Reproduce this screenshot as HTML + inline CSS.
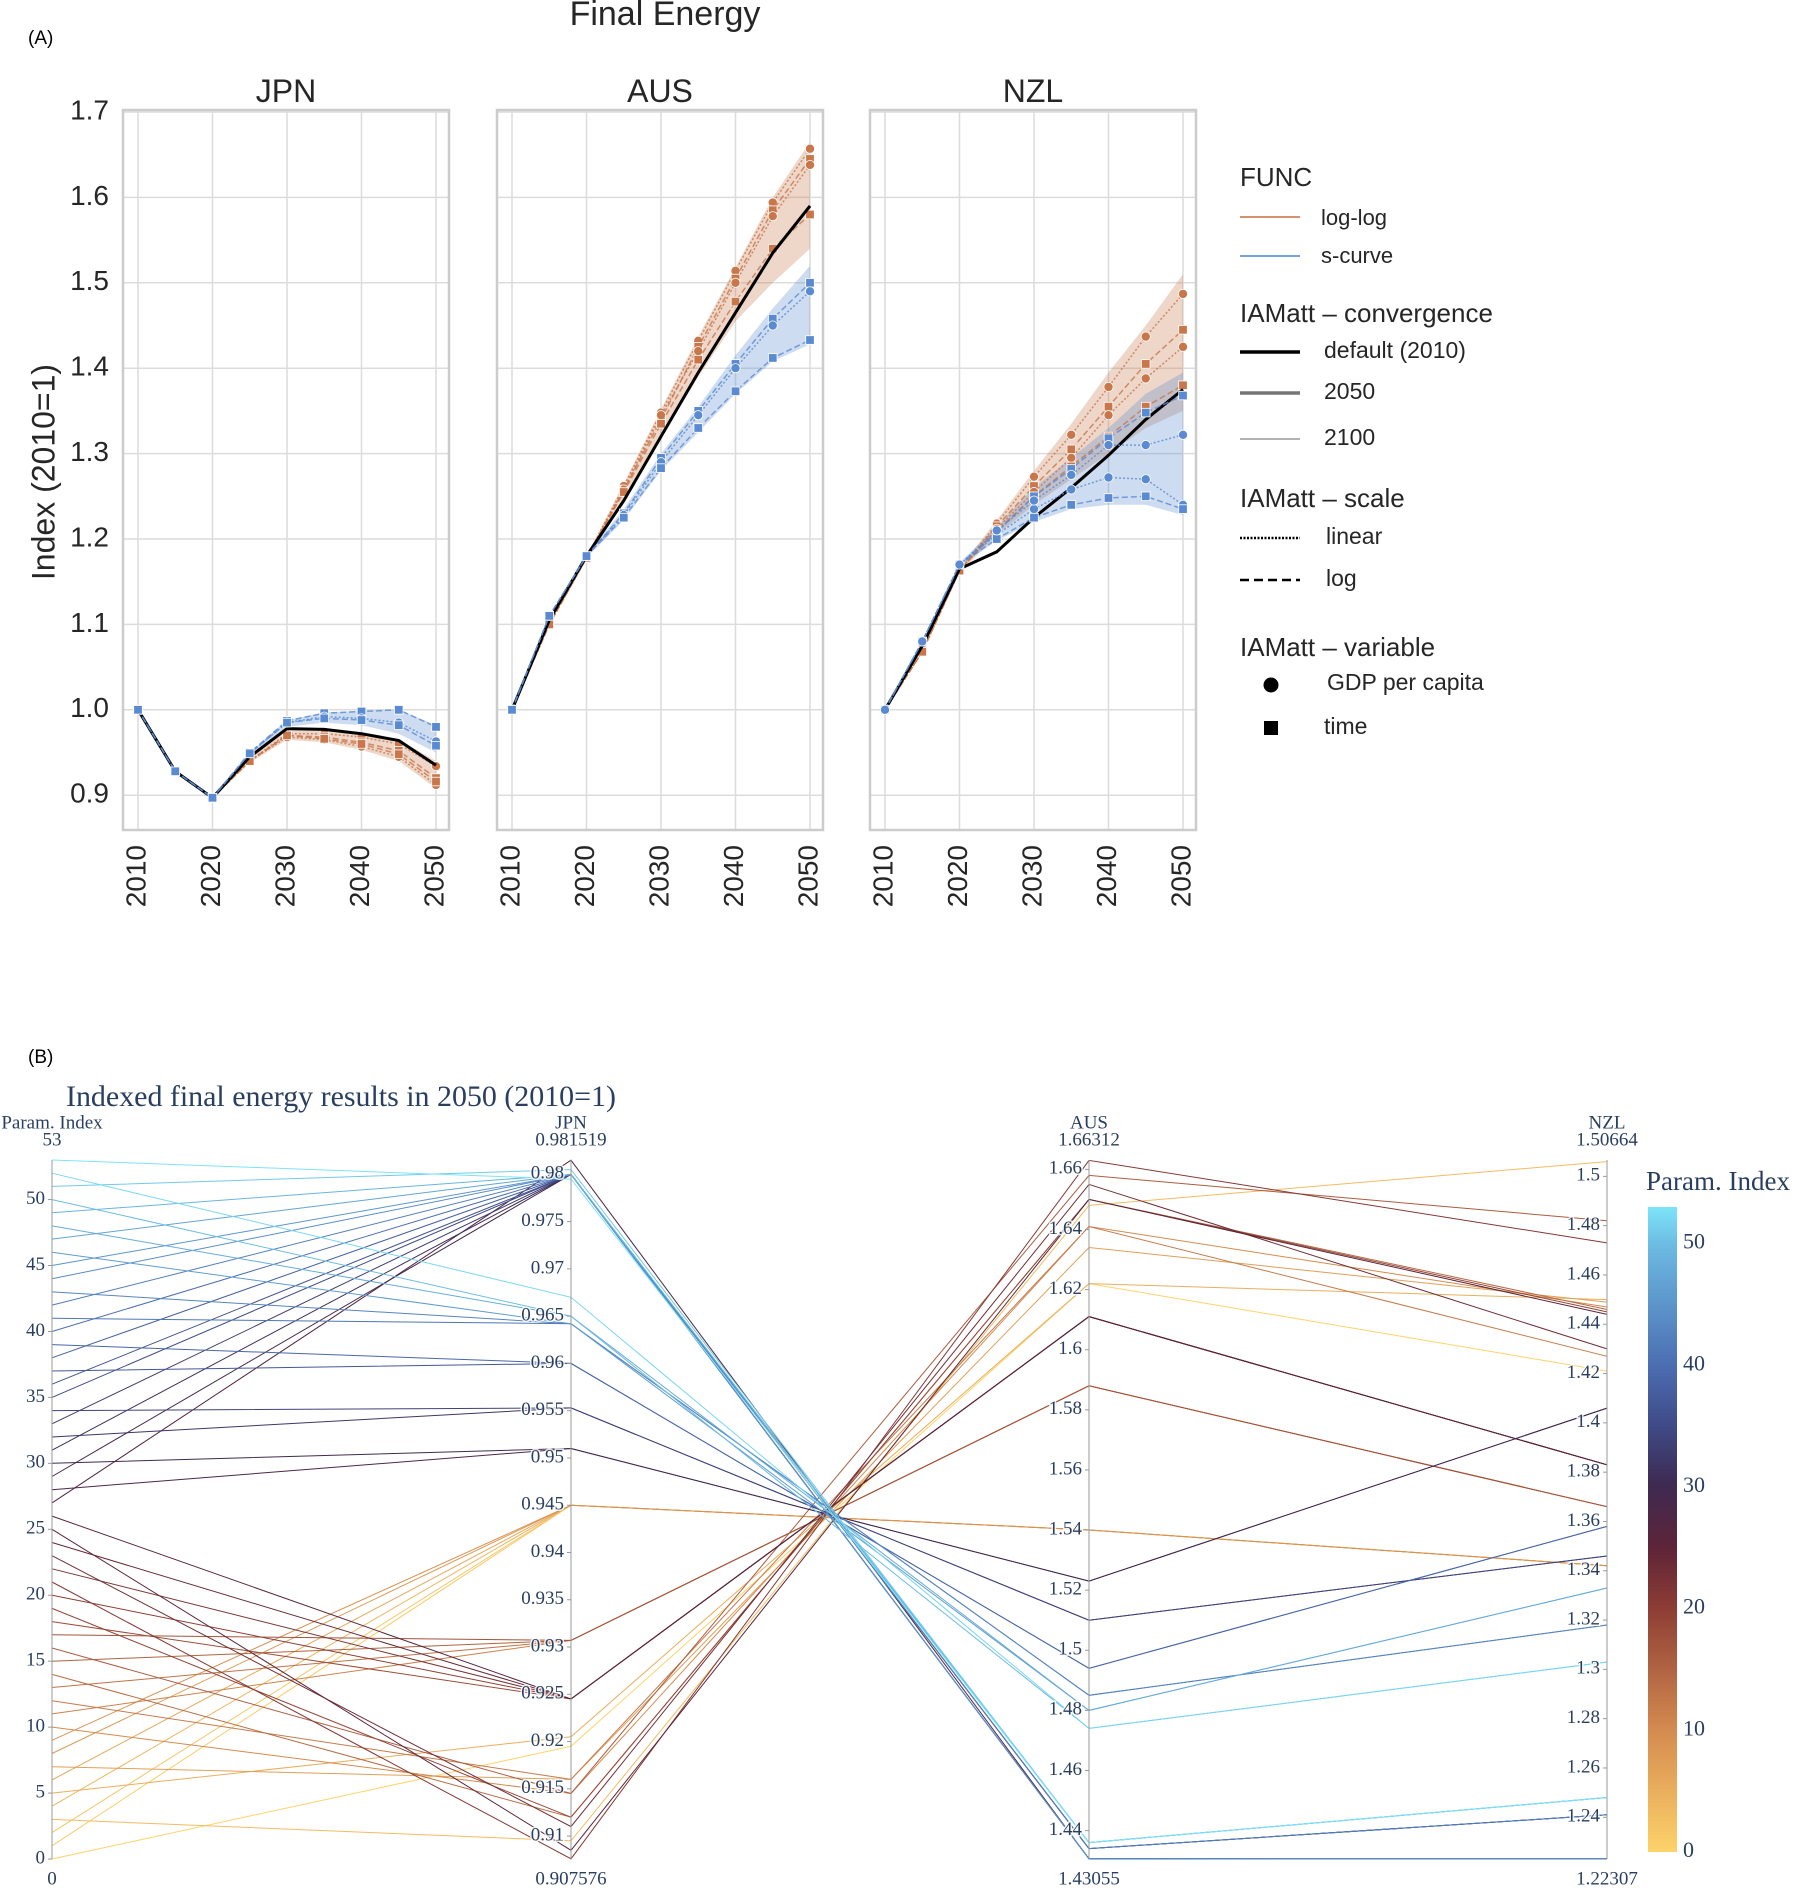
<!DOCTYPE html>
<html><head><meta charset="utf-8">
<style>
html,body{margin:0;padding:0;background:#fff;}
svg{display:block;}
.sans{font-family:"Liberation Sans",Arial,sans-serif;}
.serif{font-family:"Liberation Serif","Times New Roman",serif;}
</style></head>
<body>
<svg id="root" width="1803" height="1888" viewBox="0 0 1803 1888" xmlns="http://www.w3.org/2000/svg">
<defs>
<linearGradient id="cbgrad" x1="0" y1="1" x2="0" y2="0">
<stop offset="0" stop-color="#fdd36a"/><stop offset="0.19" stop-color="#d48a50"/>
<stop offset="0.38" stop-color="#8c3c34"/><stop offset="0.47" stop-color="#5e2438"/>
<stop offset="0.57" stop-color="#3e2a52"/><stop offset="0.66" stop-color="#3f4a86"/>
<stop offset="0.75" stop-color="#4b6cb0"/><stop offset="0.94" stop-color="#6cbbe2"/>
<stop offset="1" stop-color="#7de4f9"/>
</linearGradient>
</defs>
<text class="sans" x="28" y="44" font-size="19" fill="#000">(A)</text>
<text class="sans" x="665" y="25" font-size="34" fill="#262626" text-anchor="middle">Final Energy</text>
<text class="sans" x="46" y="472" font-size="32" fill="#262626" text-anchor="middle" transform="rotate(-90 46 472)" dominant-baseline="middle">Index (2010=1)</text>
<g id="panelA"></g>
<g id="legendA"></g>
<text class="sans" x="28" y="1063" font-size="19" fill="#000">(B)</text>
<text class="serif" x="66" y="1106" font-size="30" fill="#2a3f5f" textLength="550">Indexed final energy results in 2050 (2010=1)</text>
<g id="panelB"></g>
</svg>
<script>
// ---------- Panel A data ----------
const years = [2010,2015,2020,2025,2030,2035,2040,2045,2050];
const panelNames = ["JPN","AUS","NZL"];
const yTicks = [0.9,1.0,1.1,1.2,1.3,1.4,1.5,1.6,1.7];
const xTicks = [2010,2020,2030,2040,2050];

const jpnDefault = [1,0.928,0.897,0.945,0.978,0.977,0.972,0.964,0.935];
const jpnLog = [
 [1,0.928,0.897,0.94,0.972,0.972,0.968,0.96,0.934],
 [1,0.928,0.897,0.94,0.97,0.968,0.962,0.952,0.92],
 [1,0.928,0.897,0.94,0.968,0.965,0.957,0.945,0.912],
 [1,0.928,0.897,0.94,0.97,0.966,0.96,0.948,0.916]];
const jpnLogLo = [1,0.928,0.897,0.938,0.965,0.962,0.953,0.94,0.908];
const jpnLogHi = [1,0.928,0.897,0.945,0.978,0.976,0.972,0.965,0.94];
const jpnS = [
 [1,0.928,0.897,0.95,0.987,0.996,0.998,1.0,0.98],
 [1,0.928,0.897,0.949,0.985,0.992,0.99,0.985,0.963],
 [1,0.928,0.897,0.949,0.985,0.99,0.988,0.982,0.958]];
const jpnSLo = [1,0.928,0.897,0.946,0.98,0.985,0.982,0.972,0.95];
const jpnSHi = [1,0.928,0.897,0.95,0.988,0.997,0.999,1.0,0.982];

const ausDefault = [1,1.105,1.18,1.245,1.32,1.395,1.465,1.535,1.59];
const ausLog = [
 [1,1.1,1.178,1.262,1.348,1.432,1.514,1.594,1.657],
 [1,1.1,1.178,1.258,1.34,1.425,1.505,1.585,1.645],
 [1,1.1,1.178,1.258,1.345,1.42,1.5,1.578,1.638],
 [1,1.1,1.178,1.255,1.335,1.41,1.478,1.54,1.58]];
const ausLogLo = [1,1.1,1.175,1.245,1.32,1.39,1.455,1.5,1.54];
const ausLogHi = [1,1.1,1.18,1.265,1.352,1.437,1.518,1.6,1.665];
const ausS = [
 [1,1.11,1.18,1.23,1.295,1.35,1.405,1.458,1.5],
 [1,1.11,1.18,1.228,1.29,1.345,1.4,1.45,1.49],
 [1,1.11,1.18,1.225,1.283,1.33,1.373,1.412,1.433]];
const ausSLo = [1,1.11,1.178,1.222,1.28,1.325,1.37,1.408,1.428];
const ausSHi = [1,1.11,1.182,1.235,1.3,1.355,1.415,1.47,1.52];

const nzlDefault = [1,1.075,1.165,1.185,1.225,1.26,1.298,1.34,1.375];
const nzlLog = [
 [1,1.068,1.163,1.218,1.273,1.322,1.378,1.437,1.487],
 [1,1.068,1.163,1.215,1.262,1.305,1.355,1.405,1.445],
 [1,1.068,1.163,1.212,1.255,1.295,1.345,1.388,1.425],
 [1,1.068,1.163,1.21,1.25,1.285,1.32,1.355,1.38]];
const nzlLogLo = [1,1.068,1.16,1.205,1.24,1.27,1.3,1.33,1.35];
const nzlLogHi = [1,1.068,1.166,1.222,1.28,1.335,1.395,1.45,1.51];
const nzlS = [
 [1,1.08,1.17,1.208,1.25,1.282,1.318,1.348,1.368],
 [1,1.08,1.17,1.205,1.235,1.258,1.272,1.27,1.24],
 [1,1.08,1.17,1.2,1.225,1.24,1.248,1.25,1.235],
 [1,1.08,1.17,1.21,1.245,1.275,1.31,1.31,1.322]];
const nzlSLo = [1,1.08,1.168,1.198,1.22,1.235,1.24,1.24,1.228];
const nzlSHi = [1,1.08,1.172,1.215,1.26,1.295,1.33,1.37,1.395];

// ---------- Panel B data ----------
const paramIndex = [0,1,2,3,4,5,6,7,8,9,10,11,12,13,14,15,16,17,18,19,20,21,22,23,24,25,26,27,28,29,30,31,32,33,34,35,36,37,38,39,40,41,42,43,44,45,46,47,48,49,50,51,52,53];
const jpnVals = [0.9195,0.945,0.945,0.9095,0.945,0.9205,0.945,0.916,0.945,0.945,0.9145,0.9307,0.916,0.9307,0.912,0.9307,0.9145,0.9307,0.9245,0.912,0.9245,0.9076,0.9245,0.911,0.9245,0.9085,0.9245,0.9815,0.951,0.98,0.951,0.98,0.9553,0.98,0.9553,0.98,0.98,0.96,0.98,0.96,0.98,0.9642,0.98,0.9642,0.98,0.98,0.9642,0.98,0.965,0.98,0.965,0.9805,0.967,0.9795];
const ausVals = [1.622,1.54,1.54,1.648,1.54,1.622,1.54,1.634,1.54,1.54,1.641,1.588,1.641,1.588,1.65,1.588,1.658,1.588,1.611,1.65,1.611,1.663,1.611,1.655,1.611,1.65,1.611,1.4306,1.523,1.434,1.523,1.4306,1.51,1.4306,1.51,1.434,1.4306,1.494,1.434,1.494,1.4306,1.485,1.434,1.485,1.436,1.4306,1.48,1.436,1.48,1.436,1.474,1.436,1.474,1.436];
const nzlVals = [1.421,1.342,1.342,1.506,1.342,1.45,1.342,1.449,1.342,1.342,1.447,1.366,1.427,1.366,1.446,1.366,1.482,1.366,1.383,1.445,1.383,1.473,1.383,1.43,1.383,1.444,1.383,1.2231,1.406,1.241,1.406,1.2231,1.346,1.2231,1.346,1.241,1.2231,1.358,1.241,1.358,1.2231,1.318,1.241,1.318,1.248,1.2231,1.333,1.248,1.333,1.248,1.303,1.248,1.303,1.248];
const axisLabels = ["Param. Index","JPN","AUS","NZL"];
const axisMin = [0,0.907576,1.43055,1.22307];
const axisMax = [53,0.981519,1.66312,1.50664];
const axisMinText = ["0","0.907576","1.43055","1.22307"];
const axisMaxText = ["53","0.981519","1.66312","1.50664"];
const paramTicks = [0,5,10,15,20,25,30,35,40,45,50];
const jpnTicks = [0.91,0.915,0.92,0.925,0.93,0.935,0.94,0.945,0.95,0.955,0.96,0.965,0.97,0.975,0.98];
const ausTicks = [1.44,1.46,1.48,1.5,1.52,1.54,1.56,1.58,1.6,1.62,1.64,1.66];
const nzlTicks = [1.24,1.26,1.28,1.3,1.32,1.34,1.36,1.38,1.4,1.42,1.44,1.46,1.48,1.5];
const cbTicks = [0,10,20,30,40,50];

const NS = "http://www.w3.org/2000/svg";
function mk(tag, parent, attrs){const e=document.createElementNS(NS,tag);for(const k in attrs)e.setAttribute(k,attrs[k]);parent.appendChild(e);return e;}

// ---------- Panel A drawing ----------
const pA = document.getElementById('panelA');
const panelLeft = [123,497,870], pW = 326, pTop = 110, pBot = 830;
const ORANGE = "#c8764a", BLUE = "#5a8bd2";
function yA(v){return 112 + (1.7 - v)/0.1*85.4;}
function xA(p, yr){return panelLeft[p] + 15 + (yr-2010)/40*298;}
const panelData = [
 {def:jpnDefault,log:jpnLog,logLo:jpnLogLo,logHi:jpnLogHi,s:jpnS,sLo:jpnSLo,sHi:jpnSHi},
 {def:ausDefault,log:ausLog,logLo:ausLogLo,logHi:ausLogHi,s:ausS,sLo:ausSLo,sHi:ausSHi},
 {def:nzlDefault,log:nzlLog,logLo:nzlLogLo,logHi:nzlLogHi,s:nzlS,sLo:nzlSLo,sHi:nzlSHi}];
function pts(p, arr){return arr.map((v,i)=>xA(p,years[i]).toFixed(1)+','+yA(v).toFixed(1)).join(' ');}
function band(p, lo, hi, color, name){
  const a = lo.map((v,i)=>xA(p,years[i]).toFixed(1)+','+yA(v).toFixed(1));
  const b = hi.map((v,i)=>xA(p,years[i]).toFixed(1)+','+yA(v).toFixed(1)).reverse();
  const e = mk('polygon', pA, {points:a.concat(b).join(' '), fill:color, 'fill-opacity':0.3, stroke:'none'});
  
  
}
function series(p, arr, color, dash, marker, name){
  const e = mk('polyline', pA, {points:pts(p,arr), fill:'none', stroke:color, 'stroke-width':1.5, 'stroke-dasharray':dash, 'stroke-opacity':0.8});
  
  
  arr.forEach((v,i)=>{
    const x = xA(p,years[i]), y = yA(v);
    let m;
    if(marker==='c') m = mk('circle', pA, {cx:x, cy:y, r:4.6, fill:color, stroke:'#fff', 'stroke-width':0.8});
    else m = mk('rect', pA, {x:x-4.3, y:y-4.3, width:8.6, height:8.6, fill:color, stroke:'#fff', 'stroke-width':0.8});
    
    
  });
}
for(let p=0;p<3;p++){
  const L = panelLeft[p];
  yTicks.forEach(t=>{
    const g = mk('line', pA, {x1:L, x2:L+pW, y1:yA(t), y2:yA(t), stroke:'#dcdcdc', 'stroke-width':1.5});
    
    
    if(p===0){
      const tl = mk('text', pA, {x:109, y:yA(t), 'font-size':28, fill:'#262626', 'text-anchor':'end', 'dominant-baseline':'middle', class:'sans'});
      tl.textContent = t.toFixed(1);
      
      
    }
  });
  xTicks.forEach(t=>{
    const x = xA(p,t);
    const g = mk('line', pA, {x1:x, x2:x, y1:pTop, y2:pBot, stroke:'#dcdcdc', 'stroke-width':1.5});
    
    
    const tl = mk('text', pA, {x:x, y:845, 'font-size':28, fill:'#262626', 'text-anchor':'end', 'dominant-baseline':'middle', transform:'rotate(-90 '+x+' 845)', class:'sans'});
    tl.textContent = t;
    
    
  });
  const d = panelData[p];
  band(p, d.logLo, d.logHi, ORANGE, 'loglog-band');
  band(p, d.sLo, d.sHi, BLUE, 'scurve-band');
  d.log.forEach((arr,i)=>series(p, arr, ORANGE, i%2?'6,3':'2,2', i%2?'s':'c', 'loglog-line'));
  const dl = mk('polyline', pA, {points:pts(p,d.def), fill:'none', stroke:'#000', 'stroke-width':3});
  
  
  d.s.forEach((arr,i)=>series(p, arr, BLUE, i%2?'2,2':'6,3', i%2?'c':'s', 'scurve-line'));
  const fr = mk('rect', pA, {x:L, y:pTop, width:pW, height:pBot-pTop, fill:'none', stroke:'#cccccc', 'stroke-width':2.5});
  
  
  const tt = mk('text', pA, {x:L+pW/2, y:102, 'font-size':32, fill:'#262626', 'text-anchor':'middle', class:'sans'});
  tt.textContent = panelNames[p];
  
  
}

// ---------- Legend ----------
const lg = document.getElementById('legendA');
function ltext(x,y,s,size,name){const t=mk('text',lg,{x:x,y:y,'font-size':size,fill:'#262626','dominant-baseline':'middle',class:'sans'});t.textContent=s;}
function lline(y,stroke,w,dash,op,name){const l=mk('line',lg,{x1:1240,x2:1300,y1:y,y2:y,stroke:stroke,'stroke-width':w,'stroke-dasharray':dash,'stroke-opacity':op});}
ltext(1240,179,'FUNC',26,'legend-title-func');
lline(217,ORANGE,2,'',0.8,'legend-loglog-line'); ltext(1321,219,'log-log',22,'legend-loglog');
lline(256,BLUE,2,'',0.8,'legend-scurve-line'); ltext(1321,257,'s-curve',22,'legend-scurve');
ltext(1240,315,'IAMatt – convergence',26,'legend-title-convergence');
lline(352,'#000',3.5,'',1,'legend-default-line'); ltext(1324,352,'default (2010)',23,'legend-default');
lline(393,'#666',3.5,'',0.9,'legend-2050-line'); ltext(1324,393,'2050',23,'legend-2050');
lline(439,'#aaa',2,'',0.9,'legend-2100-line'); ltext(1324,439,'2100',23,'legend-2100');
ltext(1240,500,'IAMatt – scale',26,'legend-title-scale');
lline(538,'#000',2.5,'2,1.5',1,'legend-linear-line'); ltext(1326,538,'linear',23,'legend-linear');
lline(580,'#000',2.5,'9,5',1,'legend-log-line'); ltext(1326,580,'log',23,'legend-log');
ltext(1240,649,'IAMatt – variable',26,'legend-title-variable');
{const c=mk('circle',lg,{cx:1271,cy:685,r:7.5,fill:'#000'});}
ltext(1327,684,'GDP per capita',23,'legend-gdp');
{const r=mk('rect',lg,{x:1264,y:721,width:14,height:14,fill:'#000'});}
ltext(1324,728,'time',23,'legend-time');

// ---------- Panel B drawing ----------
const pB = document.getElementById('panelB');
const axX = [52,571,1089,1607], bTop = 1160, bBot = 1859;
function yB(a, v){return bBot - (v-axisMin[a])/(axisMax[a]-axisMin[a])*(bBot-bTop);}
const stops = [[0,[253,211,106]],[0.19,[212,138,80]],[0.38,[140,60,52]],[0.47,[94,36,56]],[0.57,[62,42,82]],[0.66,[63,74,134]],[0.75,[75,108,176]],[0.94,[108,187,226]],[1,[125,228,249]]];
function cmap(t){
  for(let i=1;i<stops.length;i++){ if(t<=stops[i][0]){const a=stops[i-1],b=stops[i];const f=(t-a[0])/(b[0]-a[0]);
    const c=a[1].map((v,k)=>Math.round(v+(b[1][k]-v)*f));return 'rgb('+c.join(',')+')';}}
  return 'rgb(125,228,249)';
}
const series4 = [paramIndex, jpnVals, ausVals, nzlVals];
paramIndex.forEach((pi,i)=>{
  const p = axX.map((x,a)=>x+','+yB(a, series4[a][i]).toFixed(1)).join(' ');
  const l = mk('polyline', pB, {points:p, fill:'none', stroke:cmap(pi/53), 'stroke-width':1});
  
  
});
const tickSets = [paramTicks, jpnTicks, ausTicks, nzlTicks];
axX.forEach((x,a)=>{
  const ax = mk('line', pB, {x1:x, x2:x, y1:bTop, y2:bBot, stroke:'#9a9a9a', 'stroke-width':1});
  
  
  tickSets[a].forEach(t=>{
    const y = yB(a,t);
    const tk = mk('line', pB, {x1:x-4, x2:x, y1:y, y2:y, stroke:'#9a9a9a', 'stroke-width':1});
    
    
    const tl = mk('text', pB, {x:x-7, y:y, 'font-size':19, fill:'#2a3f5f', 'text-anchor':'end', 'dominant-baseline':'middle', class:'serif', stroke:'#fff', 'stroke-width':3, 'paint-order':'stroke', 'stroke-opacity':0.8});
    tl.textContent = String(t);
    
    
  });
  const h = mk('text', pB, {x:x, y:1124, 'font-size':19, fill:'#2a3f5f', 'text-anchor':'middle', 'dominant-baseline':'middle', class:'serif'});
  h.textContent = axisLabels[a];
  
  
  const mx = mk('text', pB, {x:x, y:1141, 'font-size':19, fill:'#2a3f5f', 'text-anchor':'middle', 'dominant-baseline':'middle', class:'serif'});
  mx.textContent = axisMaxText[a];
  
  
  const mn = mk('text', pB, {x:x, y:1880, 'font-size':19, fill:'#2a3f5f', 'text-anchor':'middle', 'dominant-baseline':'middle', class:'serif'});
  mn.textContent = axisMinText[a];
  
  
});
const cbTop = 1207, cbBot = 1852;
{const r = mk('rect', pB, {x:1648, y:cbTop, width:29, height:cbBot-cbTop, fill:'url(#cbgrad)'});
 
 }
{const t = mk('text', pB, {x:1646, y:1184, 'font-size':27, fill:'#2a3f5f', 'dominant-baseline':'middle', class:'serif'});
 t.textContent = 'Param. Index';
 
 }
cbTicks.forEach(v=>{
  const y = cbBot - v/53*(cbBot-cbTop);
  const t = mk('text', pB, {x:1683, y:y, 'font-size':22, fill:'#2a3f5f', 'dominant-baseline':'middle', class:'serif'});
  t.textContent = v;
  
  
});
</script>
</body></html>
